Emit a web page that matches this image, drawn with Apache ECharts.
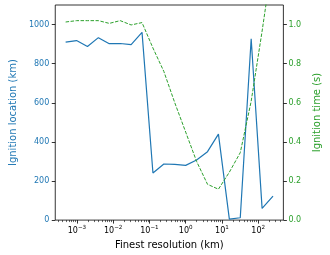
<!DOCTYPE html>
<html>
<head>
<meta charset="utf-8">
<script src="https://cdn.jsdelivr.net/npm/echarts@6/dist/echarts.min.js"></script>
<style>html,body{margin:0;padding:0;background:#fff}#c{width:330px;height:255px}</style>
</head>
<body>
<div id="c"></div>
<script>
// Finest resolution (km)
const resolution = [0.00048828125, 0.0009765625, 0.001953125, 0.00390625, 0.0078125, 0.015625, 0.03125, 0.0625, 0.125, 0.25, 0.5, 1, 2, 4, 8, 16, 32, 64, 128, 256];
// Ignition location (km)
const ignitionLocation = [910, 918, 888, 933, 902, 903, 897, 960, 241, 287, 285, 280, 307, 350, 440, 5, 12, 927, 60, 123];
// Ignition time (s)
const ignitionTime = [1.013, 1.020, 1.020, 1.020, 1.006, 1.020, 0.998, 1.010, 0.88, 0.76, 0.60, 0.45, 0.30, 0.183, 0.158, 0.245, 0.345, 0.608, 0.966, 1.35];
const xMajorTicks = [0.001, 0.01, 0.1, 1, 10, 100];
const xMinorTicks = [0.0003, 0.0004, 0.0005, 0.0006, 0.0007, 0.0008, 0.0009,
  0.002, 0.003, 0.004, 0.005, 0.006, 0.007, 0.008, 0.009,
  0.02, 0.03, 0.04, 0.05, 0.06, 0.07, 0.08, 0.09,
  0.2, 0.3, 0.4, 0.5, 0.6, 0.7, 0.8, 0.9,
  2, 3, 4, 5, 6, 7, 8, 9,
  20, 30, 40, 50, 60, 70, 80, 90,
  200, 300, 400];
const leftTicks = [0, 200, 400, 600, 800, 1000];
const rightTicks = [0, 0.2, 0.4, 0.6, 0.8, 1.0];

const BLUE = '#1f77b4', GREEN = '#2ca02c';
const FONT = 'DejaVu Sans';
const xMin = 0.0002527, xMax = 494.6;

const chart = echarts.init(document.getElementById('c'), null, {renderer: 'canvas'});
chart.setOption({
  animation: false,
  backgroundColor: '#fff',
  textStyle: {fontFamily: FONT},
  grid: {left: 40, right: 32, top: 5, bottom: 29, show: true, borderColor: '#000', borderWidth: 0.8, backgroundColor: 'transparent'},
  xAxis: [{
    type: 'log', logBase: 10, min: xMin, max: xMax,
    name: 'Finest resolution (km)', nameLocation: 'middle', nameGap: 13,
    nameTextStyle: {fontSize: 10, color: '#000', fontFamily: FONT},
    axisLine: {show: false},
    splitLine: {show: false},
    axisTick: {show: true, length: 3.5, lineStyle: {color: '#000', width: 0.8}, customValues: xMajorTicks},
    axisLabel: {
      customValues: xMajorTicks, margin: 4, color: '#000', fontSize: 8, fontFamily: FONT,
      formatter: function (v) {
        const e = Math.round(Math.log10(v));
        return '{b|10}{s|' + (e < 0 ? '\u2212' : '') + Math.abs(e) + '}';
      },
      rich: {
        b: {fontSize: 8, fontFamily: FONT, color: '#000', lineHeight: 11, verticalAlign: 'bottom'},
        s: {fontSize: 5.6, fontFamily: FONT, color: '#000', lineHeight: 11, verticalAlign: 'top'}
      }
    }
  }, {
    type: 'log', logBase: 10, min: xMin, max: xMax, position: 'bottom',
    axisLine: {show: false}, splitLine: {show: false},
    axisTick: {show: true, length: 2, lineStyle: {color: '#000', width: 0.6}, customValues: xMinorTicks},
    axisLabel: {show: false}
  }],
  yAxis: [{
    type: 'value', min: 0, max: 1100, position: 'left',
    name: 'Ignition location (km)', nameLocation: 'middle', nameGap: 25,
    nameTextStyle: {fontSize: 10, color: BLUE, fontFamily: FONT},
    axisLine: {show: false}, splitLine: {show: false},
    axisTick: {show: true, length: 3.5, lineStyle: {color: '#000', width: 0.8}, customValues: leftTicks},
    axisLabel: {customValues: leftTicks, margin: 6, color: BLUE, fontSize: 8, fontFamily: FONT,
      formatter: function (v) { return String(v); }}
  }, {
    type: 'value', min: 0, max: 1.1, position: 'right',
    name: 'Ignition time (s)', nameLocation: 'middle', nameGap: 19,
    nameTextStyle: {fontSize: 10, color: GREEN, fontFamily: FONT},
    axisLine: {show: false}, splitLine: {show: false},
    axisTick: {show: true, length: 3.5, lineStyle: {color: '#000', width: 0.8}, customValues: rightTicks},
    axisLabel: {customValues: rightTicks, margin: 5, color: GREEN, fontSize: 8, fontFamily: FONT,
      formatter: function (v) { return v.toFixed(1); }}
  }],
  series: [{
    type: 'line', xAxisIndex: 0, yAxisIndex: 0,
    data: resolution.map((x, i) => [x, ignitionLocation[i]]),
    showSymbol: false, symbol: 'none', clip: true,
    lineStyle: {color: BLUE, width: 1.2}, itemStyle: {color: BLUE}
  }, {
    type: 'line', xAxisIndex: 0, yAxisIndex: 1,
    data: resolution.map((x, i) => [x, ignitionTime[i]]),
    showSymbol: false, symbol: 'none', clip: true,
    lineStyle: {color: GREEN, width: 1, type: [3.5, 1.5]}, itemStyle: {color: GREEN}
  }]
});
</script>
</body>
</html>
